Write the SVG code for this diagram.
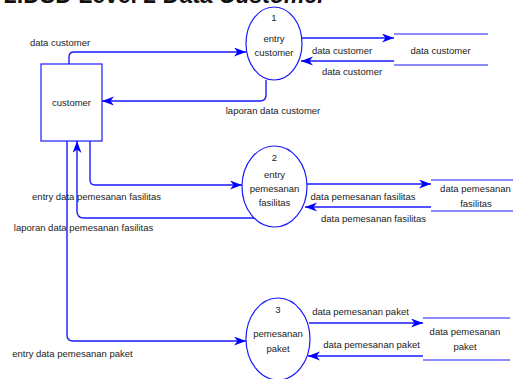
<svg xmlns="http://www.w3.org/2000/svg" width="513" height="379" viewBox="0 0 513 379">
  <style>
    .t { font-family: "Liberation Sans", Arial, sans-serif; font-size: 9.5px; fill: #222; text-anchor: middle; }
    .title { font-family: "Liberation Sans", Arial, sans-serif; font-size: 23px; font-weight: bold; fill: #111; }
    .shape { fill: #fff; stroke: #1a1aff; stroke-width: 1.2; }
    .store { stroke: #1a1aff; stroke-width: 1.2; fill: none; }
    .flow { fill: none; stroke: #1a1aff; stroke-width: 1.4; marker-end: url(#arrow); }
  </style>
  <defs>
    <marker id="arrow" markerUnits="userSpaceOnUse" markerWidth="14" markerHeight="10" refX="12" refY="4.5" orient="auto">
      <path d="M0,0 L12,4.5 L0,9 L3.5,4.5 z" fill="#0000ff"/>
    </marker>
  </defs>
  <rect width="513" height="379" fill="#fff"/>

  <text class="title" x="4" y="3">2.DSD Level 2 Data <tspan font-style="italic">Customer</tspan></text>

  <!-- external entity -->
  <g id="customer">
    <rect class="shape" x="41" y="64" width="61" height="77"/>
    <text class="t" x="71.5" y="106">customer</text>
  </g>

  <!-- processes -->
  <g id="p1">
    <ellipse class="shape" cx="274" cy="43.5" rx="28" ry="36.5"/>
    <text class="t" x="274" y="21">1</text>
    <text class="t" x="274" y="41.5">entry</text>
    <text class="t" x="274" y="56">customer</text>
  </g>
  <g id="p2">
    <ellipse class="shape" cx="274.5" cy="186.5" rx="32.5" ry="40.5"/>
    <text class="t" x="274.5" y="160.5">2</text>
    <text class="t" x="274.5" y="177.5">entry</text>
    <text class="t" x="274.5" y="191.5">pemesanan</text>
    <text class="t" x="274.5" y="205.5">fasilitas</text>
  </g>
  <g id="p3">
    <ellipse class="shape" cx="278" cy="339" rx="32" ry="41"/>
    <text class="t" x="278" y="312.5">3</text>
    <text class="t" x="278" y="336.5">pemesanan</text>
    <text class="t" x="278" y="351.5">paket</text>
  </g>

  <!-- data stores -->
  <g id="store-customer">
    <path class="store" d="M394,34 H488 M394,65 H488"/>
    <text class="t" x="440.5" y="54">data customer</text>
  </g>
  <g id="store-fasilitas">
    <path class="store" d="M431,180 H513 M431,211 H513"/>
    <text class="t" x="475.5" y="192">data pemesanan</text>
    <text class="t" x="476" y="206.5">fasilitas</text>
  </g>
  <g id="store-paket">
    <path class="store" d="M423,318 H510 M423,360 H510"/>
    <text class="t" x="465" y="335">data pemesanan</text>
    <text class="t" x="465" y="350">paket</text>
  </g>

  <!-- data flows -->
  <g id="connectors">
    <path class="flow" d="M69,64 V57 Q69,52 74,52 H246"/>
    <path class="flow" d="M302,38 H394"/>
    <path class="flow" d="M394,61 H301"/>
    <path class="flow" d="M266,80 V95 Q266,101 260,101 H102"/>
    <path class="flow" d="M90,141 V180 Q90,185 95,185 H242"/>
    <path class="flow" d="M254,218 H84 Q77,218 77,211 V141"/>
    <path class="flow" d="M67,141 V335 Q67,341 73,341 H246"/>
    <path class="flow" d="M307,184 H431"/>
    <path class="flow" d="M431,207 H305"/>
    <path class="flow" d="M309,323 H423"/>
    <path class="flow" d="M423,356 H308"/>

    <text class="t" x="60" y="46">data customer</text>
    <text class="t" x="342" y="54">data customer</text>
    <text class="t" x="352" y="75">data customer</text>
    <text class="t" x="273" y="114">laporan data customer</text>
    <text class="t" x="96.5" y="199.5">entry data pemesanan fasilitas</text>
    <text class="t" x="83.5" y="230.5">laporan data pemesanan fasilitas</text>
    <text class="t" x="363" y="199.5">data pemesanan fasilitas</text>
    <text class="t" x="373.5" y="221.5">data pemesanan fasilitas</text>
    <text class="t" x="72.5" y="356.5">entry data pemesanan paket</text>
    <text class="t" x="360.5" y="315">data pemesanan paket</text>
    <text class="t" x="371.5" y="347.5">data pemesanan paket</text>
  </g>
</svg>
